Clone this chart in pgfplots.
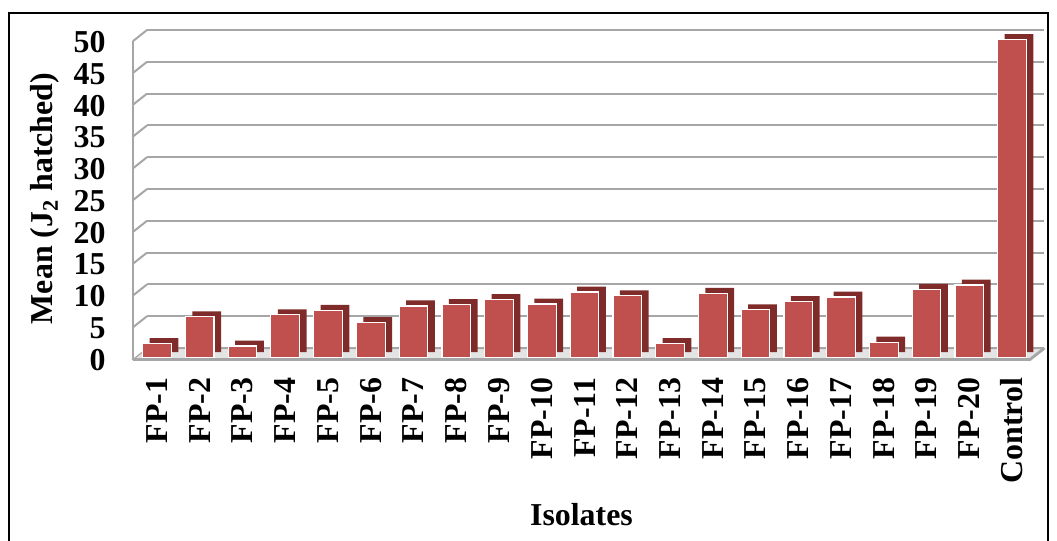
\documentclass[border=0pt]{standalone}
\usepackage{pgfplots}
\usepackage{pgfplotstable}
\pgfplotsset{compat=1.18}
\usepackage{fontspec}
\setmainfont{Liberation Serif}
\definecolor{barfront}{HTML}{C0504D}
\definecolor{barside}{HTML}{7E2B29}
\definecolor{gridc}{HTML}{A6A6A6}
\definecolor{floorc}{HTML}{E4E4E4}
\pgfplotstableread{
i v
0 2.2
1 6.4
2 1.8
3 6.7
4 7.4
5 5.5
6 8.1
7 8.3
8 9.1
9 8.4
10 10.3
11 9.7
12 2.2
13 10.1
14 7.5
15 8.8
16 9.5
17 2.4
18 10.7
19 11.4
20 50
}\datatable
\begin{document}
\begin{tikzpicture}
\path[use as bounding box] (0,0) rectangle (528.5bp,-270.5bp);
\draw[line width=1.2bp] (4.5bp,-271bp) -- (4.5bp,-6.5bp) -- (524bp,-6.5bp) -- (524bp,-271bp);
\begin{axis}[
  at={(66.5bp,-178.75bp)}, anchor=south west,
  scale only axis, width=448.5bp, height=159bp,
  xmin=-0.561, xmax=20.42, ymin=0, ymax=50,
  clip=false,
  axis line style={draw=none},
  tick style={draw=none},
  major tick length=0pt,
  xtick={0,...,20},
  xticklabels={FP-1,FP-2,FP-3,FP-4,FP-5,FP-6,FP-7,FP-8,FP-9,FP-10,FP-11,FP-12,FP-13,FP-14,FP-15,FP-16,FP-17,FP-18,FP-19,FP-20,Control},
  ytick={0,5,...,50},
  ymajorgrids,
  major grid style={draw=gridc, line width=1bp, xshift=7bp, yshift=4.75bp},
  /pgf/number format/assume math mode=true,
  every tick label/.append style={font=\fontsize{16}{19}\selectfont\bfseries},
  xticklabel style={rotate=90, anchor=east, inner sep=0pt},
  xticklabel shift=10bp,
  yticklabel style={anchor=east, inner sep=0pt, yshift=-1.25bp},
  yticklabel shift=13.5bp,
  xlabel={Isolates},
  xlabel style={at={(axis description cs:0.5,0)}, anchor=center, yshift=-78.75bp, font=\fontsize{16}{19}\selectfont\bfseries},
  ylabel={Mean (J\textsubscript{2} hatched)},
  ylabel style={at={(axis description cs:0,0.5)}, anchor=center, yshift=44bp, font=\fontsize{16}{19}\selectfont\bfseries},
]
% floor
\draw[fill=floorc, draw=gridc, line width=0.6bp] ([yshift=-1bp]axis cs:-0.561,0) -- ([yshift=-1bp]axis cs:20.42,0) -- ++(7bp,5.5bp) -- ([xshift=7bp,yshift=4.5bp]axis cs:-0.561,0) -- cycle;
\draw[gridc, line width=1.4bp] ([yshift=-1bp]axis cs:-0.561,0) -- ([yshift=-1bp]axis cs:20.42,0) -- ++(7bp,5.5bp);
% left wall
\draw[gridc, line width=1bp] ([yshift=-0.8bp]axis cs:-0.561,0) -- ([yshift=-0.8bp]axis cs:-0.561,50);
\pgfplotsinvokeforeach{5,10,15,20,25,30,35,40,45,50}{
  \draw[gridc, line width=1bp] ([yshift=-0.8bp]axis cs:-0.561,#1) -- ++(7bp,5.55bp);
}
% bars: side/top (dark) then front face
\addplot[ybar, bar width=14.35bp, bar shift=3.5bp, yshift=2.75bp, fill=barside, draw=none] table[x=i, y=v] {\datatable};
\addplot[ybar, bar width=14.35bp, bar shift=0pt, fill=barfront, draw=white, line width=0.6bp] table[x=i, y=v] {\datatable};
\end{axis}
\end{tikzpicture}
\end{document}
